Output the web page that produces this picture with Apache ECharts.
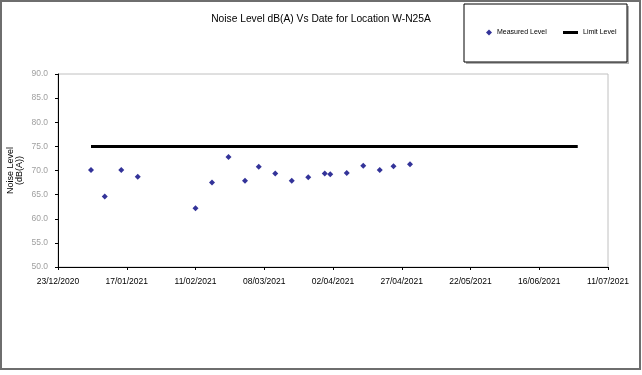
<!DOCTYPE html>
<html>
<head>
<meta charset="utf-8">
<script src="https://cdn.jsdelivr.net/npm/echarts@6/dist/echarts.min.js"></script>
<style>
html,body{margin:0;padding:0;background:#fff;}
#c{width:642px;height:375px;}
</style>
</head>
<body>
<div id="c"></div>
<script>
// ---- data ----
const titleText = 'Noise Level dB(A) Vs Date for Location W-N25A';
const yAxisName = 'Noise Level\n(dB(A))';
const measuredName = 'Measured Level';
const limitName = 'Limit Level';
const measuredDates = ['2021-01-04','2021-01-09','2021-01-15','2021-01-21','2021-02-11','2021-02-17','2021-02-23','2021-03-01','2021-03-06','2021-03-12','2021-03-18','2021-03-24','2021-03-30','2021-04-01','2021-04-07','2021-04-13','2021-04-19','2021-04-24','2021-04-30'];
const measuredValues = [70.1,64.6,70.1,68.7,62.2,67.5,72.8,67.9,70.8,69.4,67.9,68.6,69.4,69.2,69.5,71.0,70.1,70.9,71.3];
const limitDates = ['2021-01-04','2021-06-30'];
const limitValues = [75,75];
const xStart = '2020-12-23';
const xEnd = '2021-07-11';
const xTickDays = 25;
const yMin = 50, yMax = 90, yStep = 5;

// ---- helpers ----
const DAY = 86400000;
function toMs(s){const p=s.split('-').map(Number);return Date.UTC(p[0],p[1]-1,p[2]);}
const base = toMs(xStart);
function dayOf(s){return Math.round((toMs(s)-base)/DAY);}
function fmtDay(d){
  const dt=new Date(base+d*DAY);
  const dd=String(dt.getUTCDate()).padStart(2,'0');
  const mm=String(dt.getUTCMonth()+1).padStart(2,'0');
  return dd+'/'+mm+'/'+dt.getUTCFullYear();
}
const measuredData = measuredDates.map((d,i)=>[dayOf(d),measuredValues[i]]);
const limitData = limitDates.map((d,i)=>[dayOf(d),limitValues[i]]);

const FONT = 'Liberation Sans, Arial, sans-serif';
const chart = echarts.init(document.getElementById('c'), null, {renderer:'canvas'});
chart.setOption({
  animation:false,
  backgroundColor:'#fff',
  title:{
    text:titleText, left:'center', top:9,
    textStyle:{fontFamily:FONT,fontSize:10.25,fontWeight:'normal',color:'#000'}
  },
  graphic:[
    {type:'rect',shape:{x:1,y:1,width:639,height:368},style:{fill:'none',stroke:'#6e6e6e',lineWidth:2},silent:true,z:-10},
    {type:'rect',shape:{x:466,y:6,width:163,height:58},style:{fill:'#b0b0b0'},silent:true,z:-5},
    {type:'rect',shape:{x:464,y:4,width:163,height:58},style:{fill:'#fff',stroke:'#000',lineWidth:1},silent:true,z:-4}
  ],
  legend:[
    {
      data:[{name:measuredName,icon:'diamond'}],
      left:486, top:29, itemWidth:6, itemHeight:6, itemGap:0,
      textStyle:{fontFamily:FONT,fontSize:7,color:'#000'},
      padding:0
    },
    {
      data:[{name:limitName,icon:'rect'}],
      left:563, top:29, itemWidth:15, itemHeight:3, itemGap:0,
      textStyle:{fontFamily:FONT,fontSize:7,color:'#000'},
      padding:0
    }
  ],
  grid:{left:58, top:74, width:550, height:193, show:true, borderColor:'#c0c0c0', borderWidth:1, containLabel:false, outerBoundsMode:'none'},
  xAxis:{
    type:'value', min:0, max:dayOf(xEnd), interval:xTickDays,
    axisLine:{show:true,onZero:false,lineStyle:{color:'#000',width:1}},
    axisTick:{show:true,length:3,lineStyle:{color:'#000'}},
    splitLine:{show:false},
    axisLabel:{formatter:v=>fmtDay(v),fontFamily:FONT,fontSize:8.5,color:'#000',margin:10,showMaxLabel:true,showMinLabel:true,hideOverlap:false}
  },
  yAxis:{
    type:'value', min:yMin, max:yMax, interval:yStep,
    name:yAxisName, nameLocation:'middle', nameRotate:90, nameGap:34, nameMoveOverlap:false,
    nameTextStyle:{fontFamily:FONT,fontSize:9,color:'#000',lineHeight:9},
    axisLine:{show:true,onZero:false,lineStyle:{color:'#000',width:1}},
    axisTick:{show:true,length:3,lineStyle:{color:'#000'}},
    splitLine:{show:false},
    axisLabel:{formatter:v=>v.toFixed(1),fontFamily:FONT,fontSize:8.5,color:'#a0a0a0',margin:10}
  },
  series:[
    {
      name:measuredName, type:'scatter', data:measuredData,
      symbol:'diamond', symbolSize:6,
      itemStyle:{color:'#000080'}, z:3
    },
    {
      name:limitName, type:'line', data:limitData,
      symbol:'none', lineStyle:{color:'#000',width:3},
      itemStyle:{color:'#000'}, z:2
    }
  ]
});
</script>
</body>
</html>
